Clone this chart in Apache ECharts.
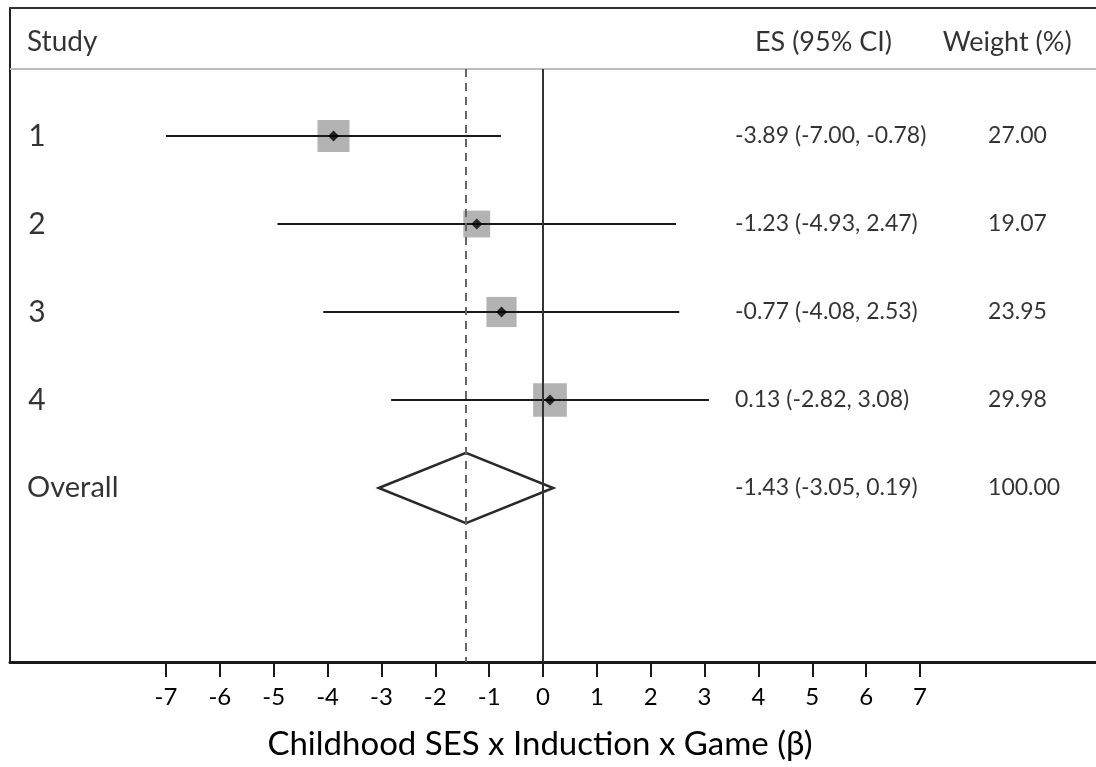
<!DOCTYPE html>
<html>
<head>
<meta charset="utf-8">
<script src="https://cdn.jsdelivr.net/npm/echarts@6/dist/echarts.min.js"></script>
<style>html,body{margin:0;padding:0;background:#fff}#c{width:1096px;height:767px}</style>
</head>
<body>
<div id="c"></div>
<script>
// ---- data ----
const studies = ['1', '2', '3', '4'];
const es = [-3.89, -1.23, -0.77, 0.13];
const ciLow = [-7.00, -4.93, -4.08, -2.82];
const ciHigh = [-0.78, 2.47, 2.53, 3.08];
const weights = [27.00, 19.07, 23.95, 29.98];
const overallLabel = 'Overall';
const overallES = -1.43;
const overallLow = -3.05;
const overallHigh = 0.19;
const overallWeight = 100.00;
const xTicks = [-7, -6, -5, -4, -3, -2, -1, 0, 1, 2, 3, 4, 5, 6, 7];
const headers = ['Study', 'ES (95% CI)', 'Weight (%)'];
const xTitle = 'Childhood SES x Induction x Game (\u03b2)';

// ---- layout (not data) ----
const FONT = 'Lato';
const Y_MIN = -0.4545, Y_MAX = 6.977;     // row scale
const HEADER_ROW = -0.07, HEADER_LINE = 0.239;
const COL_STUDY = 0.0157, COL_ES = 0.6676, COL_W = 0.9006;
const HEAD_ES = 0.686, HEAD_W = 0.859;
const BOX_SCALE = 32 / Math.sqrt(27);
const DIAMOND_HALF = 0.4;
const SZ_HEAD = 28, SZ_ROW = 30, SZ_OVERALL = 29, SZ_CELL = 23;

const fmt = v => v.toFixed(2);
const rows = studies.map((s, i) => i + 1);
const overallRow = studies.length + 1;

const textData = [];
textData.push({ value: [COL_STUDY, HEADER_ROW], label: { formatter: headers[0], fontSize: SZ_HEAD } });
textData.push({ value: [HEAD_ES, HEADER_ROW], label: { formatter: headers[1], fontSize: SZ_HEAD - 1 } });
textData.push({ value: [HEAD_W, HEADER_ROW], label: { formatter: headers[2], fontSize: SZ_HEAD - 1 } });
studies.forEach((s, i) => {
  textData.push({ value: [COL_STUDY + 0.001, rows[i]], label: { formatter: s, fontSize: SZ_ROW } });
  textData.push({ value: [COL_ES, rows[i]], label: { formatter: `${fmt(es[i])} (${fmt(ciLow[i])}, ${fmt(ciHigh[i])})`, fontSize: SZ_CELL } });
  textData.push({ value: [COL_W, rows[i]], label: { formatter: fmt(weights[i]), fontSize: SZ_CELL } });
});
textData.push({ value: [COL_STUDY, overallRow], label: { formatter: overallLabel, fontSize: SZ_OVERALL } });
textData.push({ value: [COL_ES, overallRow], label: { formatter: `${fmt(overallES)} (${fmt(overallLow)}, ${fmt(overallHigh)})`, fontSize: SZ_CELL } });
textData.push({ value: [COL_W, overallRow], label: { formatter: fmt(overallWeight), fontSize: SZ_CELL } });

const chart = echarts.init(document.getElementById('c'));
chart.setOption({
  backgroundColor: '#fff',
  animation: false,
  grid: { left: 10, right: 0, top: 8, bottom: 105 },
  xAxis: [{
    type: 'value', min: -533 / 53.86, max: 553 / 53.86, position: 'bottom',
    splitLine: { show: false },
    axisLine: { show: true, onZero: false, lineStyle: { color: '#1a1a1a', width: 3 } },
    axisTick: { show: true, customValues: xTicks, length: 15, lineStyle: { color: '#1a1a1a', width: 2 } },
    axisLabel: { show: true, customValues: xTicks, margin: 23, fontSize: 24, color: '#000', fontFamily: FONT },
    name: xTitle, nameLocation: 'middle', nameGap: 66,
    nameTextStyle: { fontSize: 33, color: '#000', fontFamily: FONT, padding: [0, 26, 0, 0] }
  }, {
    type: 'value', min: 0, max: 1, position: 'top',
    splitLine: { show: false },
    axisLine: { show: true, onZero: false, lineStyle: { color: '#333', width: 2 } },
    axisTick: { show: false }, axisLabel: { show: false }
  }],
  yAxis: [{
    type: 'value', min: Y_MIN, max: Y_MAX, inverse: true,
    splitLine: { show: false },
    axisLine: { show: true, onZero: false, lineStyle: { color: '#222', width: 2 } },
    axisTick: { show: false }, axisLabel: { show: false }
  }],
  series: [
    {
      name: 'refs', type: 'custom', xAxisIndex: 0, z: 1,
      data: [],
      renderItem: () => null,
      markLine: {
        silent: true, symbol: 'none', animation: false,
        label: { show: false },
        data: [
          [{ coord: [0, HEADER_LINE], lineStyle: { color: '#333', width: 2, type: 'solid' } }, { coord: [0, Y_MAX] }],
          [{ coord: [overallES, HEADER_LINE], lineStyle: { color: '#666', width: 2, type: [8, 6] } }, { coord: [overallES, Y_MAX] }]
        ]
      }
    },
    {
      name: 'headerLine', type: 'custom', xAxisIndex: 1, z: 1,
      data: [[0, 1, HEADER_LINE]],
      renderItem: (params, api) => {
        const a = api.coord([api.value(0), api.value(2)]);
        const b = api.coord([api.value(1), api.value(2)]);
        return { type: 'line', shape: { x1: a[0], y1: a[1], x2: b[0], y2: b[1] }, style: { stroke: '#bdbdbd', lineWidth: 2 } };
      }
    },
    {
      name: 'boxes', type: 'scatter', xAxisIndex: 0, z: 2,
      symbol: 'rect',
      symbolSize: (v, p) => BOX_SCALE * Math.sqrt(weights[p.dataIndex]),
      itemStyle: { color: '#b3b3b3', opacity: 1 },
      data: es.map((v, i) => [v, rows[i]])
    },
    {
      name: 'ci', type: 'custom', xAxisIndex: 0, z: 3,
      data: studies.map((s, i) => [ciLow[i], ciHigh[i], rows[i]]),
      renderItem: (params, api) => {
        const a = api.coord([api.value(0), api.value(2)]);
        const b = api.coord([api.value(1), api.value(2)]);
        return { type: 'line', shape: { x1: a[0], y1: a[1], x2: b[0], y2: b[1] }, style: { stroke: '#1a1a1a', lineWidth: 2 } };
      }
    },
    {
      name: 'points', type: 'scatter', xAxisIndex: 0, z: 4,
      symbol: 'diamond', symbolSize: 11,
      itemStyle: { color: '#000' },
      data: es.map((v, i) => [v, rows[i]])
    },
    {
      name: 'overall', type: 'custom', xAxisIndex: 0, z: 3,
      data: [[overallLow, overallES, overallHigh, overallRow]],
      renderItem: (params, api) => {
        const r = api.value(3);
        const p1 = api.coord([api.value(0), r]);
        const p2 = api.coord([api.value(1), r - DIAMOND_HALF]);
        const p3 = api.coord([api.value(2), r]);
        const p4 = api.coord([api.value(1), r + DIAMOND_HALF]);
        return { type: 'polygon', shape: { points: [p1, p2, p3, p4] }, style: { fill: 'none', stroke: '#2a2a2a', lineWidth: 2.5 } };
      }
    },
    {
      name: 'text', type: 'scatter', xAxisIndex: 1, z: 5,
      symbolSize: 0, silent: true,
      label: { show: true, position: 'right', distance: 0, color: '#000', fontFamily: FONT },
      data: textData
    }
  ]
});
</script>
</body>
</html>
